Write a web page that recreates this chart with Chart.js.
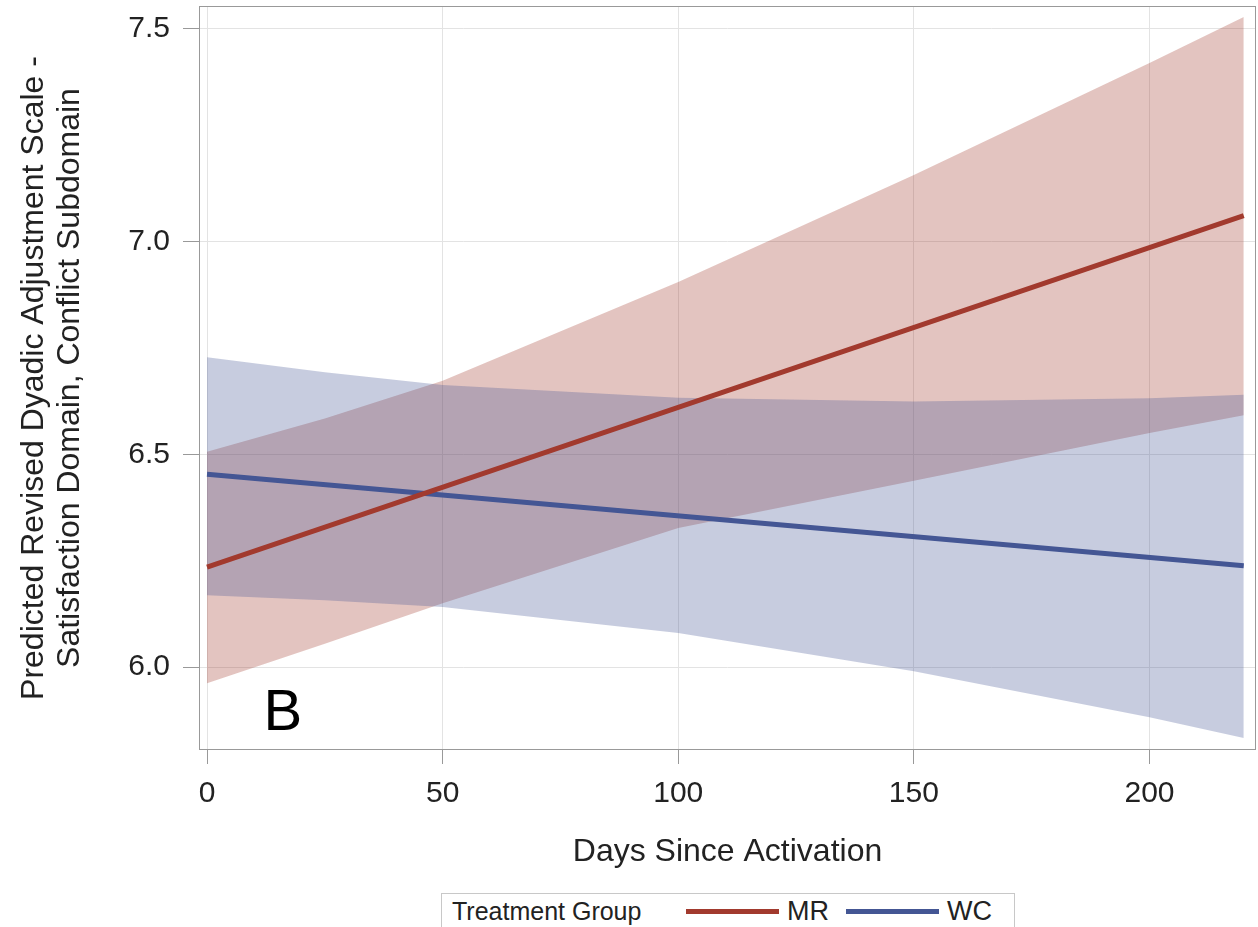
<!DOCTYPE html>
<html>
<head>
<meta charset="utf-8">
<script src="https://cdn.jsdelivr.net/npm/chart.js@4/dist/chart.umd.min.js"></script>
<style>
  body { margin: 0; background: #fff; width: 1258px; height: 927px; overflow: hidden; position: relative; font-family: "Liberation Sans", Arial, sans-serif; }
  #chart { position: absolute; left: 0; top: 0; }
  #legend { position: absolute; left: 441px; top: 893px; width: 574px; height: 40px; border: 1px solid #c8c8c8; box-sizing: border-box; display: flex; align-items: flex-start; padding: 2px 0 0 10px; font-size: 25px; line-height: 30px; color: #222; white-space: nowrap; }
  #legend .title { display: inline-block; width: 234px; }
  #legend .swatch { display: inline-block; width: 93px; height: 5px; margin: 13px 8px 0 0; }
  #legend .lab { display: inline-block; width: 59px; font-size: 27px; }
</style>
</head>
<body>
<canvas id="chart" width="1258" height="880"></canvas>
<div id="legend"></div>
<script>
const days = [0, 25, 50, 100, 150, 200, 220];
const mrUpper = [6.506, 6.584, 6.673, 6.905, 7.157, 7.420, 7.528];
const mrLower = [5.962, 6.055, 6.150, 6.327, 6.438, 6.550, 6.592];
const wcUpper = [6.728, 6.693, 6.663, 6.633, 6.624, 6.632, 6.640];
const wcLower = [6.169, 6.157, 6.141, 6.080, 5.990, 5.882, 5.833];

// fitted lines
const lineDays = [0, 220];
const mrFit = [6.235, 7.061];
const wcFit = [6.453, 6.238];

const groups = ["MR", "WC"];
const xTicks = [0, 50, 100, 150, 200];
const yTicks = [6.0, 6.5, 7.0, 7.5];

const colors = { MR: "#A23A2E", WC: "#445694" };
const bandColors = { MR: "rgba(162,58,46,0.3)", WC: "rgba(68,86,148,0.3)" };

const pts = (xs, ys) => xs.map((x, i) => ({ x: x, y: ys[i] }));

const band = (data, color, fill, order) => ({
    data: data,
    borderWidth: 0,
    pointRadius: 0,
    backgroundColor: color,
    fill: fill,
    order: order
});

const datasets = [
    { label: "MR", data: pts(lineDays, mrFit), borderColor: colors.MR, borderWidth: 5, pointRadius: 0, fill: false, order: 0 },
    { label: "WC", data: pts(lineDays, wcFit), borderColor: colors.WC, borderWidth: 5, pointRadius: 0, fill: false, order: 0 },
    band(pts(days, mrUpper), bandColors.MR, "+1", 2),
    band(pts(days, mrLower), "transparent", false, 2),
    band(pts(days, wcUpper), bandColors.WC, "+1", 1),
    band(pts(days, wcLower), "transparent", false, 1)
];

const panelLabel = { text: "B", x: 12.0, y: 5.852 };

const framePlugin = {
    id: "frame",
    afterDatasetsDraw(chart) {
        const { ctx, chartArea: a, scales } = chart;
        ctx.save();
        ctx.fillStyle = "#000";
        ctx.font = "58px 'Liberation Sans Narrow', 'Liberation Sans', Arial, sans-serif";
        ctx.textAlign = "left";
        ctx.textBaseline = "alphabetic";
        ctx.fillText(panelLabel.text, scales.x.getPixelForValue(panelLabel.x), scales.y.getPixelForValue(panelLabel.y));
        ctx.strokeStyle = "#999";
        ctx.lineWidth = 1;
        ctx.strokeRect(a.left + 0.5, a.top + 0.5, a.right - a.left - 1, a.bottom - a.top - 1);
        ctx.restore();
    }
};

const tickFont = { family: "'Liberation Sans', Arial, sans-serif", size: 30 };

new Chart(document.getElementById("chart").getContext("2d"), {
    type: "line",
    data: { datasets: datasets },
    options: {
        responsive: false,
        animation: false,
        layout: { padding: { top: 6, right: 2, left: 0, bottom: 0 } },
        plugins: { legend: { display: false }, tooltip: { enabled: false } },
        elements: { line: { tension: 0 } },
        scales: {
            x: {
                type: "linear",
                min: -1.7,
                max: 222.6,
                afterBuildTicks: (axis) => { axis.ticks = xTicks.map(v => ({ value: v })); },
                afterFit: (axis) => { axis.height = 130; axis.paddingLeft = 0; axis.paddingRight = 0; },
                ticks: { font: tickFont, color: "#222", padding: 12, maxRotation: 0 },
                grid: { color: "#e3e3e3", tickColor: "#999", tickLength: 14 },
                border: { display: false },
                title: {
                    display: true,
                    text: "Days Since Activation",
                    color: "#222",
                    font: { family: "'Liberation Sans', Arial, sans-serif", size: 32 },
                    padding: { top: 0, bottom: 9 }
                }
            },
            y: {
                min: 5.805,
                max: 7.554,
                afterBuildTicks: (axis) => { axis.ticks = yTicks.map(v => ({ value: v })); },
                afterFit: (axis) => { axis.width = 199; axis.paddingTop = 0; axis.paddingBottom = 0; },
                ticks: { font: tickFont, color: "#222", padding: 13, callback: (v) => Number(v).toFixed(1) },
                grid: { color: "#e3e3e3", tickColor: "#999", tickLength: 16 },
                border: { display: false },
                title: {
                    display: true,
                    text: ["Predicted Revised Dyadic Adjustment Scale -", "Satisfaction Domain, Conflict Subdomain"],
                    color: "#222",
                    font: { family: "'Liberation Sans', Arial, sans-serif", size: 32, lineHeight: 1.1 },
                    padding: { top: 17, bottom: 0 }
                }
            }
        }
    },
    plugins: [framePlugin]
});

// legend below the axis
const legend = document.getElementById("legend");
legend.innerHTML = '<span class="title">Treatment Group</span>' +
    groups.map(g => '<span class="swatch" style="background:' + colors[g] + '"></span><span class="lab">' + g + '</span>').join("");
</script>
</body>
</html>
